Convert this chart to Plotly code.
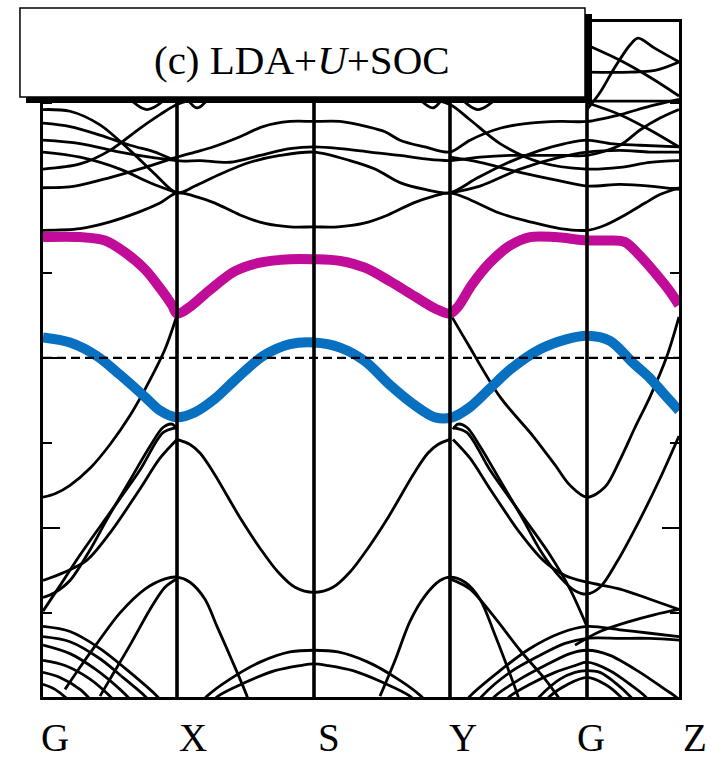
import plotly.graph_objects as go

# ---- k-path: high-symmetry points (path length, arbitrary units) ----
kpath_labels = ["G", "X", "S", "Y", "G", "Z"]
kpath_pos = [0.00, 1.34, 2.71, 4.07, 5.44, 6.36]

# ---- highlighted bands: (k, E - E_F in eV) ----
band_cond = [(0.00, 0.71), (0.37, 0.71), (0.62, 0.69), (0.82, 0.62), (1.02, 0.52), (1.17, 0.41),
             (1.29, 0.31), (1.34, 0.26), (1.47, 0.30), (1.67, 0.40), (1.92, 0.51), (2.17, 0.56),
             (2.47, 0.58), (2.71, 0.58), (2.97, 0.57), (3.22, 0.53), (3.47, 0.45), (3.72, 0.36),
             (3.92, 0.29), (4.07, 0.26), (4.15, 0.30), (4.29, 0.43), (4.47, 0.56), (4.67, 0.66),
             (4.87, 0.71), (5.12, 0.71), (5.44, 0.69), (5.67, 0.69), (5.82, 0.68), (5.97, 0.60),
             (6.12, 0.50), (6.27, 0.39), (6.36, 0.31)]
band_val = [(0.00, 0.12), (0.27, 0.09), (0.54, 0.01), (0.77, -0.10), (1.02, -0.23), (1.17, -0.31),
            (1.34, -0.35), (1.52, -0.32), (1.72, -0.24), (1.92, -0.13), (2.20, 0.01), (2.47, 0.08),
            (2.71, 0.09), (2.97, 0.06), (3.22, -0.02), (3.47, -0.16), (3.72, -0.28), (3.92, -0.35),
            (4.09, -0.35), (4.27, -0.29), (4.47, -0.18), (4.67, -0.07), (4.97, 0.05), (5.24, 0.11),
            (5.44, 0.13), (5.67, 0.10), (5.90, -0.03), (6.07, -0.12), (6.22, -0.22), (6.36, -0.31)]

# ---- remaining bands below E_F ----
vb_a = [(0.00, -0.82), (0.12, -0.80), (0.27, -0.75), (0.47, -0.65), (0.67, -0.51), (0.87, -0.34),
        (1.07, -0.13), (1.22, 0.05), (1.34, 0.25)]
vb_a2 = [(4.07, 0.26), (4.24, 0.09), (4.57, -0.23), (4.90, -0.46), (5.12, -0.63), (5.27, -0.75),
         (5.44, -0.82), (5.62, -0.76), (5.77, -0.60), (5.92, -0.41), (6.07, -0.23), (6.24, 0.01),
         (6.36, 0.24)]
vb_b = [(1.34, -0.48), (1.47, -0.51), (1.57, -0.56), (1.70, -0.67), (1.98, -0.95), (2.17, -1.12),
        (2.35, -1.26), (2.52, -1.35), (2.71, -1.38), (2.90, -1.35), (3.07, -1.26), (3.25, -1.12),
        (3.44, -0.95), (3.72, -0.67), (3.85, -0.56), (3.95, -0.51), (4.07, -0.48)]
vb_alpha = [(0.00, -1.31), (0.22, -1.26), (0.44, -1.19), (0.67, -1.03), (0.96, -0.78), (1.17, -0.59),
            (1.34, -0.48)]
vb_beta = [(0.00, -1.41), (0.12, -1.38), (0.27, -1.31), (0.47, -1.13), (0.64, -0.95), (0.87, -0.72),
           (1.07, -0.52), (1.20, -0.41), (1.29, -0.39), (1.34, -0.42)]
vb_gamma = [(0.00, -1.49), (0.17, -1.34), (0.37, -1.16), (0.67, -0.91), (0.97, -0.66), (1.20, -0.44),
            (1.34, -0.41)]
vb_alpha2 = [(4.10, -0.48), (4.27, -0.59), (4.48, -0.78), (4.77, -1.03), (5.00, -1.19), (5.22, -1.28),
             (5.44, -1.32), (5.77, -1.36), (6.07, -1.42), (6.36, -1.48)]
vb_beta2 = [(4.10, -0.42), (4.15, -0.39), (4.24, -0.41), (4.37, -0.52), (4.57, -0.72), (4.80, -0.95),
            (4.97, -1.13), (5.17, -1.29), (5.32, -1.37), (5.44, -1.39), (5.57, -1.35), (5.74, -1.20),
            (5.97, -0.95), (6.17, -0.71), (6.36, -0.46)]
vb_gamma2 = [(4.10, -0.41), (4.24, -0.44), (4.47, -0.66), (4.77, -0.91), (5.07, -1.16), (5.27, -1.36),
             (5.44, -1.58)]
vb_e = [(0.22, -1.95), (0.37, -1.82), (0.54, -1.68), (0.77, -1.50), (1.02, -1.36), (1.22, -1.30),
        (1.34, -1.29), (1.47, -1.32), (1.62, -1.42), (1.74, -1.58), (1.89, -1.78), (2.04, -1.99),
        (2.09, -2.08)]
vb_e2 = [(0.57, -1.99), (0.67, -1.89), (0.87, -1.69), (1.07, -1.48), (1.22, -1.35), (1.34, -1.30)]
vb_e3 = [(3.37, -1.99), (3.52, -1.78), (3.67, -1.55), (3.82, -1.40), (3.97, -1.31), (4.07, -1.29),
         (4.22, -1.32), (4.37, -1.42), (4.52, -1.63), (4.67, -1.86), (4.75, -1.99), (4.79, -2.07)]
vb_e4 = [(4.07, -1.30), (4.27, -1.36), (4.52, -1.53), (4.77, -1.72), (5.02, -1.89), (5.17, -2.01)]
vb_s1 = [(1.52, -2.07), (1.64, -1.99), (1.87, -1.89), (2.17, -1.79), (2.47, -1.73), (2.71, -1.72),
         (2.95, -1.73), (3.25, -1.79), (3.55, -1.89), (3.78, -1.99), (3.90, -2.07)]
vb_s2 = [(1.62, -2.07), (1.75, -1.99), (2.02, -1.91), (2.32, -1.84), (2.57, -1.81), (2.71, -1.80),
         (2.85, -1.81), (3.10, -1.84), (3.40, -1.91), (3.67, -1.99), (3.80, -2.07)]
vb_l1 = [(0.00, -1.58), (0.27, -1.61), (0.57, -1.71), (0.87, -1.85), (1.14, -1.99), (1.25, -2.07)]
vb_l2 = [(0.00, -1.64), (0.27, -1.67), (0.57, -1.77), (0.82, -1.89), (1.02, -1.99), (1.12, -2.06)]
vb_l3 = [(0.00, -1.69), (0.27, -1.74), (0.52, -1.83), (0.77, -1.95), (0.89, -2.02)]
vb_l4 = [(0.00, -1.78), (0.22, -1.81), (0.47, -1.89), (0.67, -1.99), (0.75, -2.04)]
vb_l5 = [(0.00, -1.85), (0.17, -1.88), (0.37, -1.95), (0.49, -2.02)]
vb_l6 = [(0.00, -1.92), (0.12, -1.95), (0.27, -2.02)]
vb_r1 = [(4.17, -2.07), (4.27, -1.99), (4.57, -1.84), (4.87, -1.71), (5.17, -1.62), (5.44, -1.58),
         (5.77, -1.60), (6.07, -1.62), (6.36, -1.64)]
vb_r2 = [(4.29, -2.07), (4.39, -1.99), (4.67, -1.85), (4.97, -1.75), (5.22, -1.68), (5.44, -1.65),
         (5.77, -1.65), (6.07, -1.65), (6.36, -1.66)]
vb_r3 = [(4.42, -2.07), (4.52, -1.99), (4.77, -1.89), (5.02, -1.81), (5.27, -1.74), (5.44, -1.72),
         (5.67, -1.75), (5.97, -1.85), (6.22, -1.95), (6.32, -1.99), (6.42, -2.04)]
vb_r4 = [(4.57, -2.05), (4.67, -1.99), (4.87, -1.92), (5.12, -1.85), (5.32, -1.81), (5.44, -1.79),
         (5.67, -1.84), (5.87, -1.92), (6.02, -1.99), (6.10, -2.05)]
vb_r5 = [(4.87, -2.06), (4.97, -1.99), (5.17, -1.89), (5.32, -1.85), (5.44, -1.84), (5.57, -1.85),
         (5.72, -1.91), (5.87, -1.99), (5.97, -2.06)]
vb_r6 = [(4.97, -2.06), (5.07, -1.99), (5.25, -1.92), (5.44, -1.88), (5.62, -1.92), (5.77, -1.99),
         (5.87, -2.06)]
vb_r7 = [(5.32, -1.69), (5.57, -1.61), (5.87, -1.55), (6.12, -1.51), (6.36, -1.48)]

# ---- remaining bands above E_F ----
vb_ua = [(0.00, 0.75), (0.37, 0.76), (0.67, 0.80), (0.97, 0.86), (1.17, 0.91), (1.34, 0.97),
         (1.52, 0.95), (1.72, 0.91), (1.97, 0.84), (2.22, 0.79), (2.47, 0.77), (2.71, 0.77),
         (2.95, 0.77), (3.20, 0.79), (3.45, 0.84), (3.70, 0.91), (3.90, 0.95), (4.07, 0.97),
         (4.27, 0.93), (4.57, 0.85), (4.87, 0.80), (5.17, 0.76), (5.44, 0.75), (5.62, 0.78),
         (5.82, 0.84), (6.02, 0.91), (6.17, 0.96), (6.36, 1.00)]
vb_ub = [(0.00, 1.00), (0.32, 1.01), (0.67, 1.06), (1.02, 1.12), (1.34, 1.18), (1.52, 1.21),
         (1.70, 1.24), (1.97, 1.30), (2.20, 1.36), (2.47, 1.39), (2.71, 1.39), (2.97, 1.39),
         (3.24, 1.36), (3.42, 1.33), (3.57, 1.28), (3.82, 1.24), (4.07, 1.21), (4.27, 1.28),
         (4.57, 1.35), (4.87, 1.38), (5.17, 1.39), (5.44, 1.39), (5.77, 1.43), (6.07, 1.48),
         (6.36, 1.52)]
vb_uc = [(0.00, 1.11), (0.37, 1.14), (0.67, 1.22), (0.97, 1.35), (1.17, 1.43), (1.34, 1.49),
         (1.67, 1.54), (2.17, 1.58), (2.71, 1.59), (3.25, 1.58), (3.75, 1.54), (4.07, 1.49),
         (4.27, 1.40), (4.57, 1.26), (4.97, 1.15), (5.44, 1.11), (5.77, 1.12), (6.07, 1.15),
         (6.36, 1.16)]
vb_ud = [(0.00, 1.46), (0.27, 1.45), (0.57, 1.37), (0.87, 1.22), (1.12, 1.08), (1.34, 0.97),
         (1.52, 1.01), (1.77, 1.08), (2.07, 1.15), (2.37, 1.19), (2.71, 1.21), (3.07, 1.16),
         (3.32, 1.11), (3.57, 1.03), (3.82, 0.99), (4.07, 0.97), (4.32, 1.05), (4.62, 1.14),
         (4.97, 1.22), (5.22, 1.26), (5.44, 1.28), (5.67, 1.26), (5.97, 1.25), (6.36, 1.24)]
vb_ue = [(0.00, 1.38), (0.27, 1.36), (0.57, 1.31), (0.87, 1.25), (1.12, 1.21), (1.34, 1.16),
         (1.57, 1.16), (1.87, 1.15), (2.17, 1.19), (2.47, 1.23), (2.71, 1.24), (2.97, 1.23),
         (3.27, 1.21), (3.57, 1.19), (3.82, 1.17), (4.07, 1.16), (4.37, 1.18), (4.67, 1.19),
         (4.97, 1.19), (5.22, 1.19), (5.44, 1.19), (5.77, 1.25), (5.97, 1.34), (6.17, 1.41),
         (6.36, 1.46)]
vb_uf = [(0.00, 1.28), (0.37, 1.26), (0.77, 1.21), (1.07, 1.18), (1.34, 1.16)]
vb_uf2 = [(4.07, 1.18), (4.37, 1.15), (4.77, 1.09), (5.17, 1.04), (5.44, 1.01), (5.77, 1.02),
          (6.07, 1.01), (6.36, 0.99)]
vb_ug = [(0.00, 1.21), (0.37, 1.18), (0.77, 1.11), (1.07, 1.03), (1.34, 0.97)]
vb_ug2 = [(4.07, 0.97), (4.37, 1.01), (4.77, 1.11), (5.17, 1.18), (5.44, 1.21), (5.77, 1.22),
          (6.07, 1.21), (6.36, 1.21)]
vb_z1 = [(5.44, 1.50), (5.77, 1.43), (6.07, 1.34), (6.36, 1.24)]
vb_z2 = [(5.44, 1.46), (5.57, 1.56), (5.72, 1.71), (5.87, 1.84), (5.95, 1.88), (6.12, 1.82),
         (6.36, 1.74)]
vb_z3 = [(5.44, 1.84), (5.77, 1.75), (6.07, 1.65), (6.36, 1.54)]
vb_z4 = [(5.44, 1.68), (5.87, 1.68), (6.12, 1.69), (6.36, 1.74)]
vb_z5 = [(5.44, 1.51), (5.87, 1.51), (6.36, 1.51)]
vb_k1 = [(0.80, 1.56), (1.04, 1.46), (1.30, 1.56)]
vb_k2 = [(1.40, 1.56), (1.54, 1.47), (1.70, 1.56)]
vb_k3 = [(3.70, 1.56), (3.90, 1.47), (4.03, 1.56)]
vb_k4 = [(4.12, 1.56), (4.35, 1.46), (4.60, 1.56)]

black_bands = [vb_a, vb_a2, vb_b, vb_alpha, vb_beta, vb_gamma, vb_alpha2, vb_beta2, vb_gamma2,
               vb_e, vb_e2, vb_e3, vb_e4, vb_s1, vb_s2, vb_l1, vb_l2, vb_l3, vb_l4, vb_l5, vb_l6,
               vb_r1, vb_r2, vb_r3, vb_r4, vb_r5, vb_r6, vb_r7,
               vb_ua, vb_ub, vb_uc, vb_ud, vb_ue, vb_uf, vb_uf2, vb_ug, vb_ug2,
               vb_z1, vb_z2, vb_z3, vb_z4, vb_z5, vb_k1, vb_k2, vb_k3, vb_k4]

E_MIN, E_MAX = -1.995, 1.975
K_MAX = kpath_pos[-1]

fig = go.Figure()

for band in black_bands:
    fig.add_trace(go.Scatter(
        x=[p[0] for p in band], y=[p[1] for p in band], mode="lines",
        line=dict(color="black", width=2.8, shape="spline", smoothing=0.9),
        hoverinfo="skip", showlegend=False))

for band, colour in ((band_cond, "#C00C98"), (band_val, "#0870C0")):
    fig.add_trace(go.Scatter(
        x=[p[0] for p in band], y=[p[1] for p in band], mode="lines",
        line=dict(color=colour, width=10, shape="spline", smoothing=0.9),
        hoverinfo="skip", showlegend=False))

shapes = []
# vertical lines at interior high-symmetry points
for k in kpath_pos[1:-1]:
    shapes.append(dict(type="line", xref="x", yref="paper", x0=k, x1=k, y0=0, y1=1,
                       line=dict(color="black", width=3.6), layer="above"))
# Fermi level
shapes.append(dict(type="line", xref="x", yref="y", x0=0, x1=K_MAX, y0=0, y1=0,
                   line=dict(color="black", width=2.2, dash="9px,5px"), layer="above"))
# title box with drop shadow
shapes.append(dict(type="rect", xref="paper", yref="paper", x0=-0.0267, x1=0.8632,
                   y0=0.880, y1=1.0119, fillcolor="black", line=dict(width=0), layer="above"))
shapes.append(dict(type="rect", xref="paper", yref="paper", x0=-0.0362, x1=0.8522,
                   y0=0.8889, y1=1.0207, fillcolor="white",
                   line=dict(color="black", width=1.5), layer="above"))

annotations = [dict(text="(c) LDA+<i>U</i>+SOC", xref="paper", yref="paper",
                    x=0.407, y=0.9437, xanchor="center", yanchor="middle", showarrow=False,
                    font=dict(family="Liberation Serif", size=41, color="black"))]

# path labels under the frame
label_xshift = [12, 16, 15, 13, 4, 16]
for lab, k, dx in zip(kpath_labels, kpath_pos, label_xshift):
    annotations.append(dict(text=lab, x=k, xref="x", y=0, yref="paper", yshift=-40,
                            xshift=dx, xanchor="center", yanchor="middle", showarrow=False,
                            font=dict(family="Liberation Serif", size=39, color="black")))

fig.update_layout(
    width=727, height=760, autosize=False,
    margin=dict(l=43, r=48, t=22, b=63, pad=0),
    paper_bgcolor="white", plot_bgcolor="white",
    shapes=shapes, annotations=annotations, showlegend=False,
    xaxis=dict(range=[0, K_MAX], showgrid=False, zeroline=False, showticklabels=False,
               ticks="", showline=True, mirror=True, linecolor="black", linewidth=2.5),
    yaxis=dict(range=[E_MIN, E_MAX], showgrid=False, zeroline=False, showticklabels=False,
               ticks="inside", ticklen=17, tickwidth=2, tickcolor="black", dtick=1, tick0=0,
               minor=dict(ticks="inside", ticklen=9, tickwidth=2, tickcolor="black",
                          dtick=0.5, tick0=0, showgrid=False),
               showline=True, mirror="allticks", linecolor="black", linewidth=2.5),
)

fig.write_html("out.html")
